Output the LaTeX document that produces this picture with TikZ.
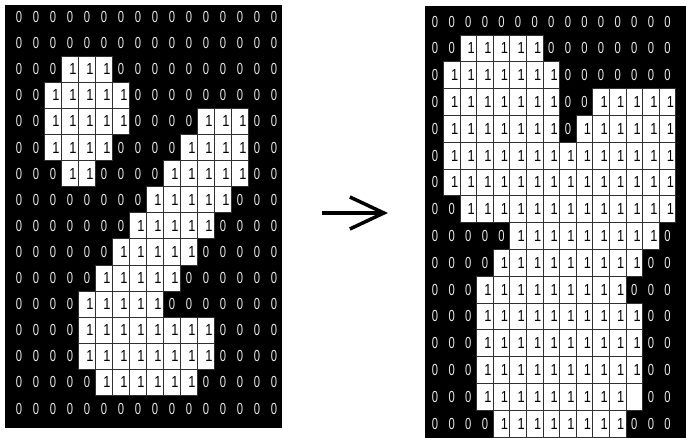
\documentclass[tikz,border=0pt]{standalone}
\usepackage{fontspec}
\setsansfont{Liberation Sans}
\usepackage{tikz}
\usetikzlibrary{positioning, arrows.meta, calc}
\definecolor{pixOn}{HTML}{ffffff}
\definecolor{pixOff}{HTML}{000000}
\definecolor{pixRule}{HTML}{303030}
\definecolor{zeroInk}{HTML}{e8e8e8}
\newcommand{\zr}{\scalebox{0.7}[1]{0}}
\newcommand{\on}{\scalebox{0.8}[1]{1}}

\begin{document}
\begin{tikzpicture}[x=1pt,y=-1pt,img/.style={fill=pixOff, draw=none, inner sep=0pt},zero/.style={text=zeroInk, inner sep=0pt, font=\sffamily\fontsize{16}{16}\selectfont},onecell/.style={fill=pixOn, draw=pixRule, line width=0.8pt, inner sep=0pt, text=black, font=\sffamily\fontsize{16}{16}\selectfont}]
\useasboundingbox (0,0) rectangle (686,438);
\node[img, minimum width=277pt, minimum height=423pt, anchor=north west] (srcimg) at (5,5) {};
\node[img, minimum width=261pt, minimum height=432pt, anchor=north west] (dstimg) at (425,6) {};
\foreach \row [count=\r] in {
  {0,0,0,0,0,0,0,0,0,0,0,0,0,0,0,0},
  {0,0,0,0,0,0,0,0,0,0,0,0,0,0,0,0},
  {0,0,0,1,1,1,0,0,0,0,0,0,0,0,0,0},
  {0,0,1,1,1,1,1,0,0,0,0,0,0,0,0,0},
  {0,0,1,1,1,1,1,0,0,0,0,1,1,1,0,0},
  {0,0,1,1,1,1,0,0,0,0,1,1,1,1,0,0},
  {0,0,0,1,1,0,0,0,0,1,1,1,1,1,0,0},
  {0,0,0,0,0,0,0,0,1,1,1,1,1,0,0,0},
  {0,0,0,0,0,0,0,1,1,1,1,1,0,0,0,0},
  {0,0,0,0,0,0,1,1,1,1,1,0,0,0,0,0},
  {0,0,0,0,0,1,1,1,1,1,0,0,0,0,0,0},
  {0,0,0,0,1,1,1,1,1,0,0,0,0,0,0,0},
  {0,0,0,0,1,1,1,1,1,1,1,1,0,0,0,0},
  {0,0,0,0,1,1,1,1,1,1,1,1,0,0,0,0},
  {0,0,0,0,0,1,1,1,1,1,1,0,0,0,0,0},
  {0,0,0,0,0,0,0,0,0,0,0,0,0,0,0,0}}
  \foreach \v [count=\c] in \row {
    \ifnum\v=1
      \draw[onecell] ({10.5+(\c-1)*17},{4+(\r-1)*26.1}) rectangle ++(17,26.1) node[midway, xshift=3pt] (l-\r-\c) {\on};
    \else
      \node[zero] (l-\r-\c) at ({10.5+(\c-0.5)*17},{4+(\r-0.5)*26.1}) {\zr};
    \fi
  };
\foreach \row [count=\r] in {
  {0,0,0,0,0,0,0,0,0,0,0,0,0,0,0},
  {0,0,1,1,1,1,1,0,0,0,0,0,0,0,0},
  {0,1,1,1,1,1,1,1,0,0,0,0,0,0,0},
  {0,1,1,1,1,1,1,1,0,0,1,1,1,1,1},
  {0,1,1,1,1,1,1,1,0,1,1,1,1,1,1},
  {0,1,1,1,1,1,1,1,1,1,1,1,1,1,1},
  {0,1,1,1,1,1,1,1,1,1,1,1,1,1,1},
  {0,0,1,1,1,1,1,1,1,1,1,1,1,1,1},
  {0,0,0,0,0,1,1,1,1,1,1,1,1,1,0},
  {0,0,0,0,1,1,1,1,1,1,1,1,1,0,0},
  {0,0,0,1,1,1,1,1,1,1,1,1,0,0,0},
  {0,0,0,1,1,1,1,1,1,1,1,1,1,0,0},
  {0,0,0,1,1,1,1,1,1,1,1,1,1,0,0},
  {0,0,0,1,1,1,1,1,1,1,1,1,1,0,0},
  {0,0,0,1,1,1,1,1,1,1,1,1,2,0,0},
  {0,0,0,0,1,1,1,1,1,1,1,1,0,0,0}}
  \foreach \v [count=\c] in \row {
    \ifcase\v
      \node[zero] (r-\r-\c) at ({426.8+(\c-0.5)*16.6},{8.2+(\r-0.5)*26.8}) {\zr};
    \or
      \draw[onecell] ({426.8+(\c-1)*16.6},{8.2+(\r-1)*26.8}) rectangle ++(16.6,26.8) node[midway, xshift=3pt] (r-\r-\c) {\on};
    \or
      \draw[onecell] ({426.8+(\c-1)*16.6},{8.2+(\r-1)*26.8}) rectangle ++(16.6,26.8);
    \fi
  };
\coordinate (arrtail) at (322,213);
\coordinate (arrhead) at (388,213);
\draw[line width=3.5pt, -{Straight Barb[length=34pt, width=32pt]}] (arrtail) -- (arrhead);
\end{tikzpicture}
\end{document}
